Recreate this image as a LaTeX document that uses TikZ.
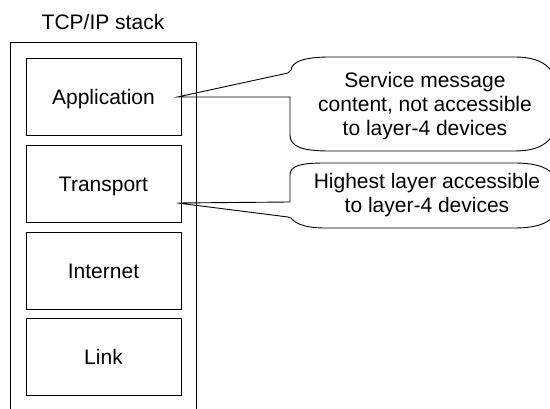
\documentclass[tikz,border=0pt]{standalone}
\usepackage{fontspec}
\setmainfont{Liberation Sans}
\usetikzlibrary{calc}
\begin{document}
\begin{tikzpicture}[x=1pt,y=-1pt,line width=0.9pt,
  layerbox/.style={draw,minimum width=155pt,minimum height=77pt,inner sep=0pt,
    text height=15.2pt,text depth=0pt,font=\fontsize{21}{24}\selectfont},
  bubbletext/.style={align=center,inner sep=0pt,font=\fontsize{21}{24}\selectfont},
  bubble/.style={draw,line join=miter}]
\useasboundingbox (0,0) rectangle (550,409);
% title
\node[anchor=base,inner sep=0pt,font=\fontsize{21}{24}\selectfont] (title) at (103,30) {TCP/IP stack};
% outer stack frame (open at the bottom)
\draw (10,412) -- (10,42) -- (196,42) -- (196,412);
% layers
\node[layerbox] (app)   at (103.5,96.5)  {Application};
\node[layerbox] (trans) at (103.5,183.5) {Transport};
\node[layerbox] (inet)  at (103.5,270.5) {Internet};
\node[layerbox] (link)  at (103.5,357)   {Link};
% pointer tips
\coordinate (tip1) at ($(app.east)+(-4,0.5)$);
\coordinate (tip2) at ($(trans.east)+(-4,19.5)$);
% callout texts
\node[bubbletext] (note1) at (425,106) {Service message\\content, not accessible\\to layer-4 devices};
\node[bubbletext] (note2) at (427,195) {Highest layer accessible\\to layer-4 devices};
% callout 1
\draw[bubble] (tip1) -- (290,97) -- (290,135)
  .. controls (290,147) and (303,151) .. (330,151) -- (515,151)
  .. controls (545,151) and (560,138) .. (560,104)
  .. controls (560,70) and (545,57) .. (515,57) -- (330,57)
  .. controls (303,57) and (292,62) .. (291,70)
  -- (288,73) -- cycle;
% callout 2
\draw[bubble] (tip2) -- (290,202) -- (290,175)
  .. controls (290,166) and (300,163) .. (325,163) -- (515,163)
  .. controls (545,163) and (560,172) .. (560,195)
  .. controls (560,219) and (545,228) .. (515,228) -- (325,228)
  .. controls (302,228) and (294,222) .. (291,218)
  -- (288,217) -- cycle;
\end{tikzpicture}
\end{document}
